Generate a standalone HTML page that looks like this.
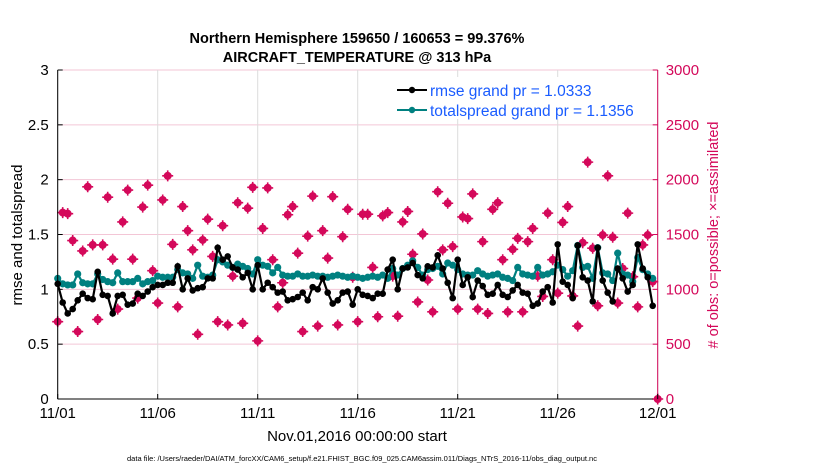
<!DOCTYPE html>
<html><head><meta charset="utf-8"><style>
body{margin:0;background:#fff;width:830px;height:470px;overflow:hidden;font-family:"Liberation Sans",sans-serif}
</style></head><body>
<svg id="chart" width="830" height="470" xmlns="http://www.w3.org/2000/svg" font-family="Liberation Sans, sans-serif">
<g id="grid"></g>
<g id="obs"></g>
<g id="spread"></g>
<g id="rmse"></g>
<g id="axes"></g>
<text x="357" y="43" text-anchor="middle" font-size="14.5" font-weight="bold">Northern Hemisphere 159650 / 160653 = 99.376%</text>
<text x="357" y="62" text-anchor="middle" font-size="14.5" font-weight="bold">AIRCRAFT_TEMPERATURE @ 313 hPa</text>
<text transform="translate(22,235) rotate(-90)" text-anchor="middle" font-size="15">rmse and totalspread</text>
<text transform="translate(718,235) rotate(-90)" text-anchor="middle" font-size="14.5" fill="#d4085a"># of obs: o=possible; ×=assimilated</text>
<text x="357" y="441" text-anchor="middle" font-size="15">Nov.01,2016 00:00:00 start</text>
<text x="362" y="461" text-anchor="middle" font-size="7.5">data file: /Users/raeder/DAI/ATM_forcXX/CAM6_setup/f.e21.FHIST_BGC.f09_025.CAM6assim.011/Diags_NTrS_2016-11/obs_diag_output.nc</text>
<g>
<rect x="392" y="77" width="262" height="42" fill="#fff"/>
<line x1="397" y1="90" x2="427" y2="90" stroke="#000" stroke-width="2"/><circle cx="412" cy="90" r="3.2" fill="#000"/>
<text x="430" y="96" font-size="15.5" fill="#1a5cff">rmse grand pr = 1.0333</text>
<line x1="397" y1="110" x2="427" y2="110" stroke="#008080" stroke-width="2"/><circle cx="412" cy="110" r="3.2" fill="#008080"/>
<text x="430" y="116" font-size="15.5" fill="#1a5cff">totalspread grand pr = 1.1356</text>
</g>
</svg>
<script>
const rmseValues=[1.05,0.88,0.78,0.82,0.90,0.96,0.92,0.91,1.16,0.95,0.94,0.78,0.94,0.95,0.86,0.87,0.96,0.94,0.98,1.02,
1.04,1.04,1.06,1.06,1.21,1.00,1.10,0.99,1.01,1.02,1.10,1.10,1.38,1.27,1.30,1.20,1.18,1.11,1.15,1.00,
1.22,1.00,1.06,1.02,0.97,0.98,0.90,0.91,0.93,0.97,0.90,1.02,1.00,1.10,0.97,0.87,0.90,0.97,0.98,0.86,
1.00,0.95,0.94,0.92,0.96,0.96,1.18,1.27,1.00,1.19,1.20,1.24,1.13,1.10,1.21,1.20,1.31,1.19,1.06,0.92,
1.27,1.04,1.11,0.93,1.08,1.03,0.95,0.96,1.04,0.95,0.93,0.99,1.04,0.97,0.96,0.85,0.87,0.98,1.02,0.88,
1.41,1.07,1.04,0.92,1.40,1.11,1.08,0.89,1.38,1.08,0.97,0.89,1.19,1.10,0.98,1.04,1.41,1.19,1.11,0.85];
const spreadValues=[1.10,1.05,1.04,1.04,1.14,1.06,1.05,1.05,1.14,1.09,1.07,1.06,1.15,1.07,1.07,1.07,1.10,1.05,1.07,1.08,
1.12,1.11,1.11,1.11,1.18,1.15,1.14,1.10,1.22,1.12,1.11,1.13,1.27,1.25,1.22,1.20,1.23,1.21,1.19,1.14,
1.27,1.22,1.21,1.15,1.20,1.13,1.12,1.12,1.14,1.12,1.12,1.13,1.12,1.12,1.11,1.12,1.13,1.12,1.11,1.12,
1.11,1.10,1.11,1.12,1.11,1.13,1.10,1.19,1.13,1.19,1.22,1.26,1.20,1.13,1.18,1.19,1.21,1.14,1.24,1.22,
1.18,1.14,1.13,1.13,1.17,1.14,1.12,1.13,1.14,1.11,1.10,1.08,1.20,1.14,1.13,1.12,1.20,1.13,1.14,1.16,
1.22,1.18,1.12,1.17,1.40,1.20,1.21,1.10,1.38,1.15,1.14,1.08,1.33,1.14,1.13,1.07,1.29,1.18,1.14,1.10];
const obsValues=[705,1700,1690,1445,615,1350,1935,1405,725,1405,1840,1275,820,1615,1905,1275,920,1750,1950,1170,
875,1815,2035,1410,840,1755,1535,1360,590,1450,1640,1300,705,1580,675,1120,1790,690,1740,1930,
530,1555,1925,1270,840,1060,1680,1755,1330,615,1485,1850,665,1535,1285,1845,675,1480,1730,1110,
705,1685,1685,1200,750,1670,1700,1120,755,1615,1710,1320,885,1505,1085,795,1890,1360,1785,1390,
820,1660,1645,1870,820,1435,780,1730,1790,1270,795,1365,1465,795,1435,1555,1120,935,1695,1270,
965,1610,1755,940,665,1425,2160,1375,850,1495,2035,1475,875,1190,1695,1115,840,1405,1495,1070,0];
const xTickLabels=["11/01","11/06","11/11","11/16","11/21","11/26","12/01"];
const xTickDays=[0,5,10,15,20,25,30];
const yLeftTicks=[0,0.5,1,1.5,2,2.5,3];
const yRightTicks=[0,500,1000,1500,2000,2500,3000];

const NS="http://www.w3.org/2000/svg";
const X0=57.7,X1=657.7,Y0=399,Y1=70;
function xDay(d){return X0+(X1-X0)*d/30;}
function xIdx(i){return xDay(i*0.25);}
function yL(v){return Y0-(Y0-Y1)*v/3;}
function yR(v){return Y0-(Y0-Y1)*v/3000;}
function mk(tag,attrs,parent){const e=document.createElementNS(NS,tag);for(const k in attrs)e.setAttribute(k,attrs[k]);parent.appendChild(e);return e;}
const grid=document.getElementById('grid'),axes=document.getElementById('axes');
mk('rect',{x:X0,y:Y1,width:X1-X0,height:Y0-Y1,fill:'#fff'},grid);
yRightTicks.forEach(v=>{const l=mk('line',{x1:X0,x2:X1,y1:yR(v),y2:yR(v),stroke:'#f3c6d6','stroke-width':1},grid);

});
xTickDays.forEach(d=>{const l=mk('line',{x1:xDay(d),x2:xDay(d),y1:Y1,y2:Y0,stroke:'#dcdcdc','stroke-width':1},grid);

});
const obs=document.getElementById('obs');
obsValues.forEach((v,i)=>{const cx=xIdx(i),cy=yR(v);
const c=mk('circle',{cx:cx,cy:cy,r:4,fill:'#d4085a'},obs);


mk('path',{d:`M${cx-5.5} ${cy}H${cx+5.5}M${cx} ${cy-5.5}V${cy+5.5}`,stroke:'#d4085a','stroke-width':1.6},obs);});
function series(gid,vals,col,r){const g=document.getElementById(gid);
const p=mk('polyline',{points:vals.map((v,i)=>xIdx(i)+','+yL(v)).join(' '),fill:'none',stroke:col,'stroke-width':2.2},g);


vals.forEach((v,i)=>{const c=mk('circle',{cx:xIdx(i),cy:yL(v),r:r,fill:col},g);

});}
series('spread',spreadValues,'#008080',3.6);
series('rmse',rmseValues,'#000',3.3);
mk('line',{x1:X0,x2:X0,y1:Y1,y2:Y0,stroke:'#000','stroke-width':1},axes);
mk('line',{x1:X0,x2:X1,y1:Y0,y2:Y0,stroke:'#000','stroke-width':1},axes);
mk('line',{x1:X1,x2:X1,y1:Y1,y2:Y0,stroke:'#d4085a','stroke-width':1},axes);
yLeftTicks.forEach(v=>{mk('line',{x1:X0,x2:X0+5,y1:yL(v),y2:yL(v),stroke:'#000'},axes);
const t=mk('text',{x:X0-9,y:yL(v)+5,'text-anchor':'end','font-size':15},axes);t.textContent=String(v);

});
yRightTicks.forEach(v=>{mk('line',{x1:X1-5,x2:X1,y1:yR(v),y2:yR(v),stroke:'#d4085a'},axes);
const t=mk('text',{x:X1+8,y:yR(v)+5,'font-size':15,fill:'#d4085a'},axes);t.textContent=String(v);

});
xTickDays.forEach((d,i)=>{mk('line',{x1:xDay(d),x2:xDay(d),y1:Y0,y2:Y0-5,stroke:'#000'},axes);
const t=mk('text',{x:xDay(d),y:Y0+19,'text-anchor':'middle','font-size':15},axes);t.textContent=xTickLabels[i];

});
</script>
</body></html>
